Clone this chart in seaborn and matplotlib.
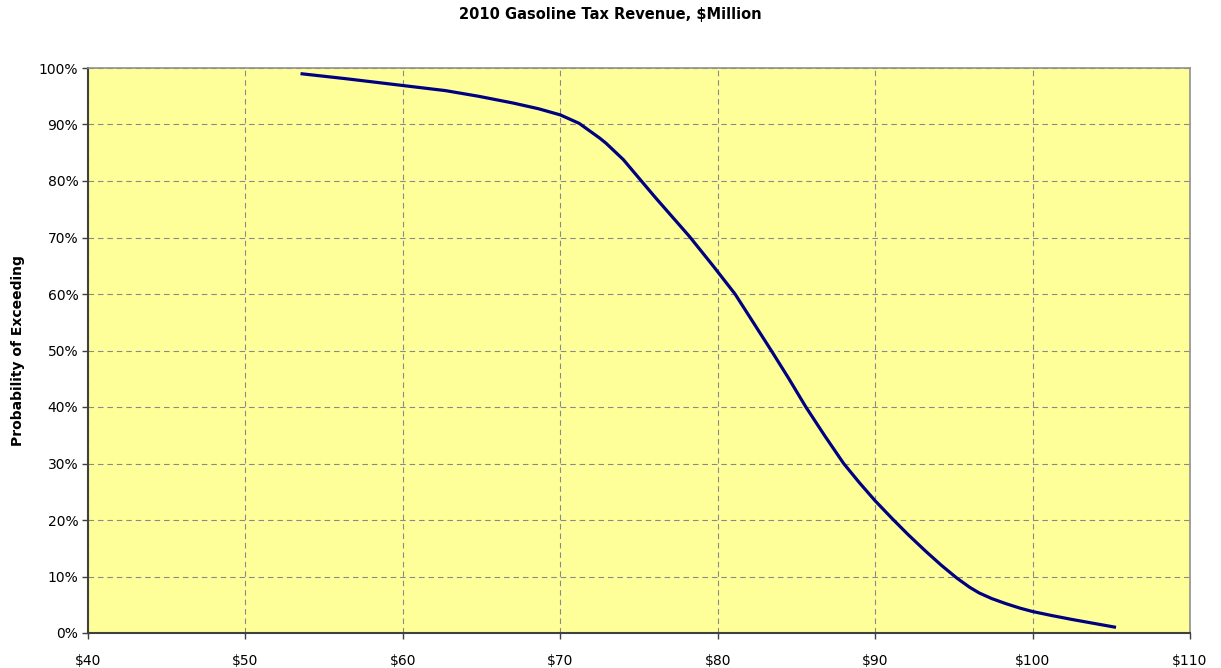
import matplotlib
matplotlib.use("Agg")
import matplotlib.pyplot as plt
import seaborn as sns
import pandas as pd
from matplotlib.ticker import FuncFormatter

title = "2010 Gasoline Tax Revenue, $Million"
ylabel = "Probability of Exceeding"

revenue = [53.5, 56.4, 60.0, 62.7, 64.8, 67.0, 68.6, 70.0, 71.2, 71.6, 72.5, 72.9,
           74.0, 75.0, 76.0, 77.1, 78.2, 79.7, 81.1, 82.25, 83.4, 84.5, 85.6, 86.8,
           88.0, 89.0, 90.0, 91.1, 92.1, 93.2, 94.2, 95.2, 96.0, 96.6, 97.4, 98.3,
           99.2, 100.0, 101.2, 102.5, 103.9, 105.3]
prob = [99.0, 98.1, 96.9, 96.0, 95.0, 93.8, 92.8, 91.7, 90.2, 89.4, 87.6, 86.7,
        83.8, 80.5, 77.2, 73.7, 70.2, 65.0, 60.0, 55.0, 50.0, 45.1, 40.0, 34.9,
        30.0, 26.6, 23.4, 20.2, 17.4, 14.5, 12.0, 9.7, 8.1, 7.1, 6.1, 5.2,
        4.4, 3.8, 3.1, 2.4, 1.7, 1.0]

df = pd.DataFrame({"revenue": revenue, "prob": prob})

sns.set_theme(style="white")
plt.rcParams["font.family"] = ["Verdana", "DejaVu Sans"]

fig = plt.figure(figsize=(12.21, 6.68), dpi=100)
ax = fig.add_axes([88 / 1221, 35 / 668, (1190 - 88) / 1221, (633 - 68) / 668])
ax.set_facecolor("#FFFF99")

sns.lineplot(data=df, x="revenue", y="prob", ax=ax, color="#000080",
             linewidth=2.3, solid_capstyle="butt", solid_joinstyle="round")

ax.set_xlim(40, 110)
ax.set_ylim(0, 100)
ax.set_xticks(range(40, 111, 10))
ax.set_yticks(range(0, 101, 10))
ax.xaxis.set_major_formatter(FuncFormatter(lambda v, p: f"${v:.0f}"))
ax.yaxis.set_major_formatter(FuncFormatter(lambda v, p: f"{v:.0f}%"))
ax.grid(True, color="#8a8a8a", linestyle=(0, (5, 3.5)), linewidth=0.8)
ax.tick_params(axis="both", labelsize=10, length=4, width=1, direction="out",
               color="#404040", labelcolor="black", pad=3, left=True, bottom=True)
ax.tick_params(axis="x", pad=11)
for s in ["left", "bottom"]:
    ax.spines[s].set_color("#404040")
    ax.spines[s].set_linewidth(1.5)
for s in ["top", "right"]:
    ax.spines[s].set_color("#909090")
    ax.spines[s].set_linewidth(1.2)
ax.set_xlabel("")
ax.set_ylabel(ylabel, fontsize=10, fontweight="bold", labelpad=10, color="black")
fig.text(0.5, 1 - 15 / 668, title, ha="center", va="center", fontsize=10.5,
         fontweight="bold", color="black")

fig.savefig("out.png", dpi=100)
